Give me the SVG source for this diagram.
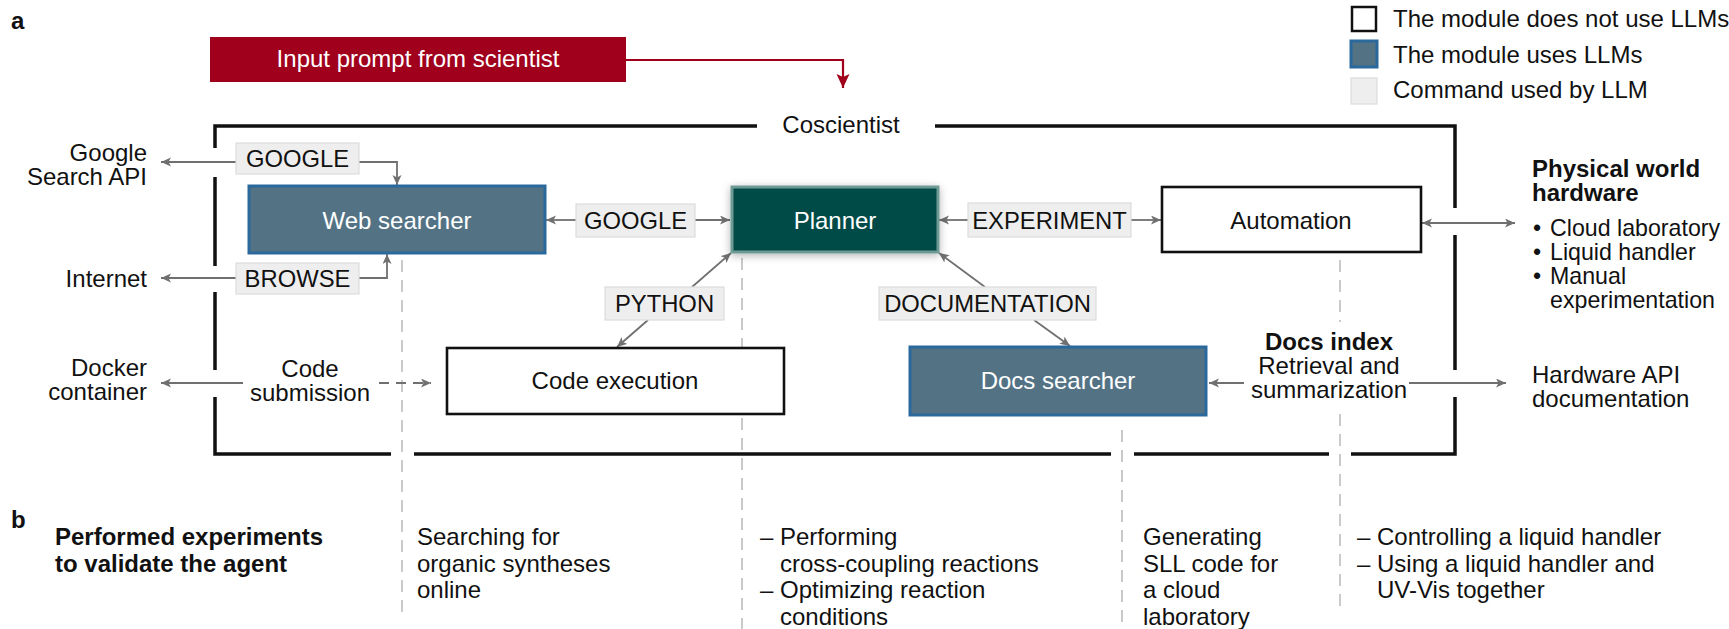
<svg xmlns="http://www.w3.org/2000/svg" width="1729" height="629" viewBox="0 0 1729 629">
<style>
text{font-family:"Liberation Sans",Arial,sans-serif;font-size:24px;fill:#111}
.b{font-weight:bold}
.c{text-anchor:middle}
.r{text-anchor:end}
.w{fill:#fff}
.s{font-size:23.2px}
.lbl{fill:#eeeeee;stroke:#dcdcdc;stroke-width:1.2}
.lt{font-size:23.8px;text-anchor:middle}
.llm{fill:#537385;stroke:#2b699d;stroke-width:3}
.plain{fill:#fff;stroke:#111;stroke-width:2.6}
.con{fill:none;stroke:#707070;stroke-width:1.8}
.dash{fill:none;stroke:#bdbdbd;stroke-width:1.6;stroke-dasharray:12 8}
.frame{fill:none;stroke:#111;stroke-width:3.5}
</style>
<defs>
<marker id="ah" markerUnits="userSpaceOnUse" markerWidth="12" markerHeight="10" refX="10" refY="4.5" orient="auto-start-reverse">
<path d="M0,0 L10,4.5 L0,9 L2.5,4.5 Z" fill="#707070"/>
</marker>
<marker id="ahr" markerUnits="userSpaceOnUse" markerWidth="16" markerHeight="16" refX="14" refY="6.5" orient="auto">
<path d="M0,0 L14,6.5 L0,13 L3,6.5 Z" fill="#a0001c"/>
</marker>
<filter id="sh" x="-20%" y="-30%" width="140%" height="160%">
<feDropShadow dx="0" dy="2" stdDeviation="4" flood-color="#000" flood-opacity="0.3"/>
</filter>
</defs>

<rect width="1729" height="629" fill="#fff"/>

<g id="panel-labels">
<text x="11" y="29" class="b">a</text>
<text x="11" y="528" class="b">b</text>
</g>

<g id="legend">
<rect x="1352" y="7" width="24" height="24" fill="#fff" stroke="#111" stroke-width="2.5"/>
<text x="1393" y="27">The module does not use LLMs</text>
<rect x="1351" y="41" width="26" height="26" class="llm" stroke-width="2"/>
<text x="1393" y="63">The module uses LLMs</text>
<rect x="1351" y="78" width="26" height="26" class="lbl"/>
<text x="1393" y="98">Command used by LLM</text>
</g>

<g id="guides">
<line x1="402" y1="260" x2="402" y2="617" class="dash"/>
<line x1="742" y1="258" x2="742" y2="629" class="dash"/>
<line x1="1122" y1="430" x2="1122" y2="629" class="dash"/>
<line x1="1340" y1="260" x2="1340" y2="322" class="dash"/>
<line x1="1340" y1="414" x2="1340" y2="608" class="dash"/>
</g>

<g id="coscientist-frame">
<path class="frame" d="M215,148 V126 H757 M935,126 H1455 V208 M1455,235 V370 M1455,397 V454 H1351 M1329,454 H1134 M1111,454 H414 M391,454 H215 V397 M215,370 V292 M215,266 V177"/>
<text x="841" y="133" class="c">Coscientist</text>
</g>

<g id="connectors">
<path d="M626,60 H843 V88" fill="none" stroke="#a0001c" stroke-width="2.2" marker-end="url(#ahr)"/>
<line x1="236" y1="162" x2="161" y2="162" class="con" marker-end="url(#ah)"/>
<path d="M359,162 H397 V185" class="con" marker-end="url(#ah)"/>
<line x1="236" y1="278" x2="161" y2="278" class="con" marker-end="url(#ah)"/>
<path d="M359,278 H387 V254" class="con" marker-end="url(#ah)"/>
<line x1="576" y1="220" x2="546" y2="220" class="con" marker-end="url(#ah)"/>
<line x1="695" y1="220" x2="730" y2="220" class="con" marker-end="url(#ah)"/>
<line x1="968" y1="220" x2="939" y2="220" class="con" marker-end="url(#ah)"/>
<line x1="1131" y1="220" x2="1161" y2="220" class="con" marker-end="url(#ah)"/>
<line x1="1422" y1="223" x2="1515" y2="223" class="con" marker-start="url(#ah)" marker-end="url(#ah)"/>
<line x1="692" y1="287" x2="731" y2="253" class="con" marker-end="url(#ah)"/>
<line x1="648" y1="320" x2="617" y2="347" class="con" marker-end="url(#ah)"/>
<line x1="985" y1="287" x2="939" y2="253" class="con" marker-end="url(#ah)"/>
<line x1="1034" y1="320" x2="1070" y2="346" class="con" marker-end="url(#ah)"/>
<line x1="243" y1="383" x2="161" y2="383" class="con" marker-end="url(#ah)"/>
<line x1="379" y1="383" x2="431" y2="383" class="con" stroke-dasharray="10 7" marker-end="url(#ah)"/>
<line x1="1244" y1="383" x2="1209" y2="383" class="con" marker-end="url(#ah)"/>
<line x1="1409" y1="383" x2="1506" y2="383" class="con" marker-end="url(#ah)"/>
</g>

<g id="input-prompt">
<rect x="210" y="37" width="416" height="45" fill="#a0001c"/>
<text x="418" y="67" class="c w">Input prompt from scientist</text>
</g>

<g id="cmd-google-api">
<rect x="236" y="143" width="123" height="31" class="lbl"/>
<text x="297.5" y="167" class="lt">GOOGLE</text>
</g>
<g id="cmd-browse">
<rect x="236" y="263" width="123" height="31" class="lbl"/>
<text x="297.5" y="287" class="lt">BROWSE</text>
</g>
<g id="cmd-google">
<rect x="576" y="204" width="119" height="33" class="lbl"/>
<text x="635.5" y="229" class="lt">GOOGLE</text>
</g>
<g id="cmd-experiment">
<rect x="968" y="203" width="163" height="34" class="lbl"/>
<text x="1049.5" y="229" class="lt">EXPERIMENT</text>
</g>
<g id="cmd-python">
<rect x="605" y="287" width="119" height="33" class="lbl"/>
<text x="664.5" y="312" class="lt">PYTHON</text>
</g>
<g id="cmd-documentation">
<rect x="879" y="287" width="217" height="33" class="lbl"/>
<text x="987.5" y="312" class="lt">DOCUMENTATION</text>
</g>

<g id="web-searcher">
<rect x="249" y="186" width="296" height="67" class="llm"/>
<text x="397" y="229" class="c w">Web searcher</text>
</g>
<g id="planner">
<rect x="732" y="187" width="206" height="65" fill="#044c47" stroke="#6e9a95" stroke-width="3" filter="url(#sh)"/>
<text x="835" y="229" class="c w">Planner</text>
</g>
<g id="automation">
<rect x="1162" y="187" width="259" height="65" class="plain"/>
<text x="1291" y="229" class="c">Automation</text>
</g>
<g id="code-execution">
<rect x="447" y="348" width="337" height="66" class="plain"/>
<text x="615" y="389" class="c">Code execution</text>
</g>
<g id="docs-searcher">
<rect x="910" y="347" width="296" height="68" class="llm"/>
<text x="1058" y="389" class="c w">Docs searcher</text>
</g>

<g id="external">
<text x="147" y="161" class="r">Google</text>
<text x="147" y="185" class="r">Search API</text>
<text x="147" y="287" class="r">Internet</text>
<text x="147" y="376" class="r">Docker</text>
<text x="147" y="400" class="r">container</text>
<text x="310" y="377" class="c">Code</text>
<text x="310" y="401" class="c">submission</text>
<text x="1329" y="350" class="c b">Docs index</text>
<text x="1329" y="374" class="c">Retrieval and</text>
<text x="1329" y="398" class="c">summarization</text>
<text x="1532" y="177" class="b">Physical world</text>
<text x="1532" y="201" class="b">hardware</text>
<text x="1533" y="236" class="s">•<tspan x="1550">Cloud laboratory</tspan></text>
<text x="1533" y="260" class="s">•<tspan x="1550">Liquid handler</tspan></text>
<text x="1533" y="284" class="s">•<tspan x="1550">Manual</tspan></text>
<text x="1550" y="308" class="s">experimentation</text>
<text x="1532" y="383">Hardware API</text>
<text x="1532" y="407">documentation</text>
</g>

<g id="experiments">
<text x="55" y="545" class="b">Performed experiments</text>
<text x="55" y="572" class="b">to validate the agent</text>
<text x="417" y="545">Searching for</text>
<text x="417" y="572">organic syntheses</text>
<text x="417" y="598">online</text>
<text x="760" y="545">–<tspan x="780">Performing</tspan></text>
<text x="780" y="572">cross-coupling reactions</text>
<text x="760" y="598">–<tspan x="780">Optimizing reaction</tspan></text>
<text x="780" y="625">conditions</text>
<text x="1143" y="545">Generating</text>
<text x="1143" y="572">SLL code for</text>
<text x="1143" y="598">a cloud</text>
<text x="1143" y="625">laboratory</text>
<text x="1357" y="545">–<tspan x="1377">Controlling a liquid handler</tspan></text>
<text x="1357" y="572">–<tspan x="1377">Using a liquid handler and</tspan></text>
<text x="1377" y="598">UV-Vis together</text>
</g>
</svg>
